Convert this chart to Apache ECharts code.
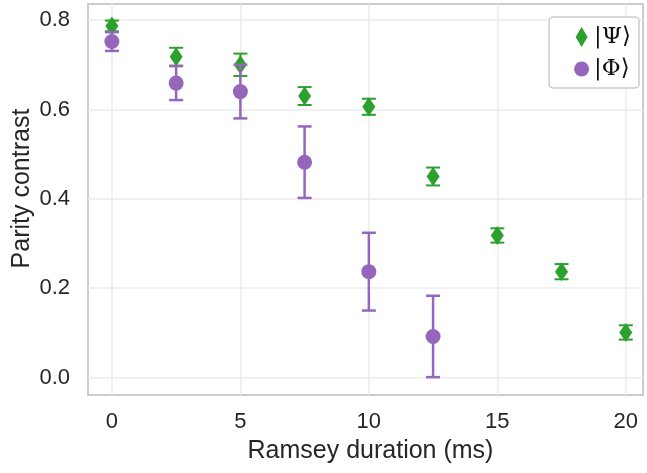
<!DOCTYPE html>
<html>
<head>
<meta charset="utf-8">
<script src="https://cdn.jsdelivr.net/npm/echarts@6/dist/echarts.min.js"></script>
<style>
  html, body { margin: 0; padding: 0; background: #fff; }
  #chart { width: 647px; height: 473px; }
</style>
</head>
<body>
<div id="chart"></div>
<script>
// Ramsey durations (ms)
const psiX = [0, 2.5, 5, 7.5, 10, 12.5, 15, 17.5, 20];
const psiY = [0.787, 0.718, 0.700, 0.630, 0.606, 0.450, 0.318, 0.237, 0.101];
const psiErr = [0.012, 0.020, 0.025, 0.020, 0.018, 0.020, 0.016, 0.017, 0.016];

const phiX = [0, 2.5, 5, 7.5, 10, 12.5];
const phiY = [0.752, 0.659, 0.640, 0.482, 0.237, 0.092];
const phiErr = [0.021, 0.038, 0.060, 0.080, 0.087, 0.091];

const xTicks = [0, 5, 10, 15, 20];
const yTicks = [0, 0.2, 0.4, 0.6, 0.8];

const GREEN = "#2ca02c";
const PURPLE = "#9467bd";
const DIAMOND = "path://M6,0 L12,10 L6,20 L0,10 Z";

const myChart = echarts.init(document.getElementById("chart"));

// error bar drawn through the axis scales
function errorBar(color, lineW) {
  return function (params, api) {
    const x = api.value(0);
    const y = api.value(1);
    const e = api.value(2);
    const hi = api.coord([x, y + e]);
    const lo = api.coord([x, y - e]);
    const cap = 7;
    const style = { stroke: color, lineWidth: lineW };
    return {
      type: "group",
      children: [
        { type: "line", shape: { x1: hi[0], y1: hi[1], x2: lo[0], y2: lo[1] }, style: style },
        { type: "line", shape: { x1: hi[0] - cap, y1: hi[1], x2: hi[0] + cap, y2: hi[1] }, style: style },
        { type: "line", shape: { x1: lo[0] - cap, y1: lo[1], x2: lo[0] + cap, y2: lo[1] }, style: style },
      ],
    };
  };
}

const option = {
  animation: false,
  grid: {
    left: 88,
    right: 4,
    top: 4,
    bottom: 78,
    outerBoundsMode: "none",
    containLabel: false,
    show: true,
    borderColor: "#cccccc",
    borderWidth: 2,
    backgroundColor: "#ffffff",
  },
  legend: {
    orient: "vertical",
    right: 8,
    top: 17,
    padding: [6, 8, 5, 25],
    itemGap: 4,
    itemWidth: 15,
    itemHeight: 20,
    symbolKeepAspect: true,
    borderColor: "#cccccc",
    borderWidth: 1.5,
    borderRadius: 4,
    backgroundColor: "#ffffff",
    textStyle: {
      fontFamily: "DejaVu Serif",
      fontSize: 23,
      lineHeight: 28,
      color: "#111",
      padding: [0, 0, 0, 0],
    },
    data: [
      { name: "|Ψ⟩", icon: DIAMOND },
      { name: "|Φ⟩", icon: "circle" },
    ],
  },
  xAxis: {
    type: "value",
    min: -0.93,
    max: 20.67,
    name: "Ramsey duration (ms)",
    nameLocation: "middle",
    nameGap: 44,
    nameMoveOverlap: false,
    nameTextStyle: {
      fontFamily: "Liberation Sans",
      fontSize: 25,
      color: "#262626",
      padding: [0, 0, 0, 10],
    },
    axisLine: { show: false },
    axisTick: { show: false, customValues: xTicks },
    axisLabel: {
      customValues: xTicks,
      margin: 16,
      fontFamily: "Liberation Sans",
      fontSize: 22,
      color: "#262626",
    },
    splitLine: { show: true, lineStyle: { color: "#ebebeb", width: 1.5 } },
  },
  yAxis: {
    type: "value",
    min: -0.039,
    max: 0.836,
    name: "Parity contrast",
    nameLocation: "middle",
    nameGap: 53,
    nameMoveOverlap: false,
    nameTextStyle: {
      fontFamily: "Liberation Sans",
      fontSize: 25,
      color: "#262626",
      padding: [0, 0, 0, 22],
    },
    axisLine: { show: false },
    axisTick: { show: false, customValues: yTicks },
    axisLabel: {
      customValues: yTicks,
      margin: 18,
      fontFamily: "Liberation Sans",
      fontSize: 22,
      color: "#262626",
      formatter: function (v) { return v.toFixed(1); },
    },
    splitLine: { show: true, lineStyle: { color: "#ebebeb", width: 1.5 } },
  },
  series: [
    {
      type: "custom",
      renderItem: errorBar(GREEN, 2),
      data: psiX.map((x, i) => [x, psiY[i], psiErr[i]]),
      z: 2,
      silent: true,
    },
    {
      name: "|Ψ⟩",
      type: "scatter",
      symbol: "diamond",
      symbolSize: [13, 19],
      itemStyle: { color: GREEN, opacity: 1 },
      data: psiX.map((x, i) => [x, psiY[i]]),
      z: 3,
    },
    {
      type: "custom",
      renderItem: errorBar(PURPLE, 2.5),
      data: phiX.map((x, i) => [x, phiY[i], phiErr[i]]),
      z: 4,
      silent: true,
    },
    {
      name: "|Φ⟩",
      type: "scatter",
      symbol: "circle",
      symbolSize: 15,
      itemStyle: { color: PURPLE, opacity: 1 },
      data: phiX.map((x, i) => [x, phiY[i]]),
      z: 5,
    },
  ],
};

myChart.setOption(option);
</script>
</body>
</html>
